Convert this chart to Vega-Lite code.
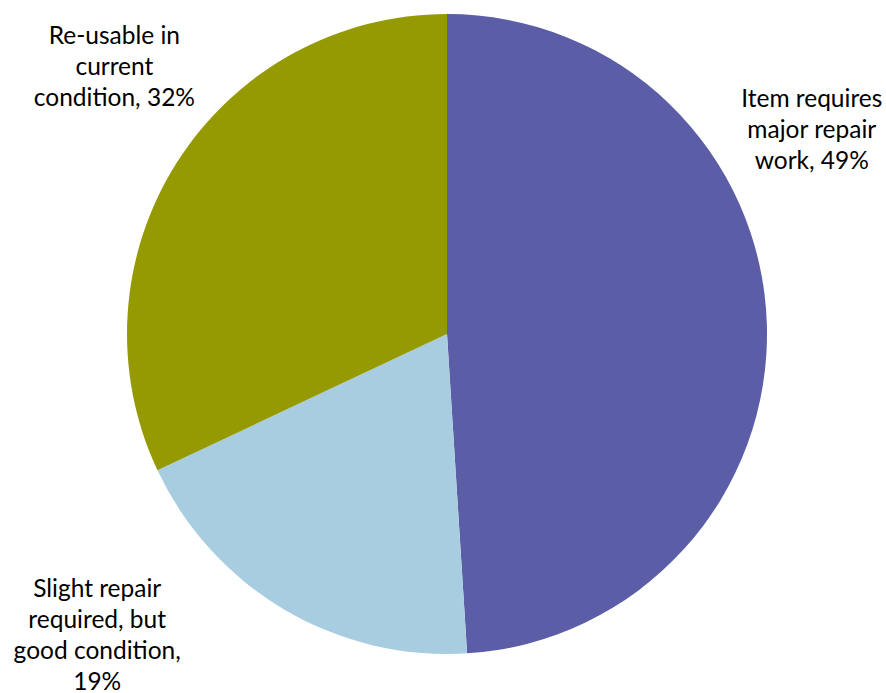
{
  "$schema": "https://vega.github.io/schema/vega-lite/v6.json",
  "width": 878,
  "height": 668,
  "autosize": {"type": "none"},
  "padding": {"left": 8, "top": 0, "right": 0, "bottom": 25},
  "background": "white",
  "config": {"view": {"stroke": null}},
  "data": {
    "values": [
      {"category": "Item requires major repair work", "share": 49, "seq": 1, "label": "Item requires\nmajor repair\nwork, 49%"},
      {"category": "Slight repair required, but good condition", "share": 19, "seq": 2, "label": "Slight repair\nrequired, but\ngood condition,\n19%"},
      {"category": "Re-usable in current condition", "share": 32, "seq": 3, "label": "Re-usable in\ncurrent\ncondition, 32%"}
    ]
  },
  "encoding": {
    "theta": {"field": "share", "type": "quantitative", "stack": true},
    "order": {"field": "seq", "type": "quantitative", "sort": "ascending"}
  },
  "layer": [
    {
      "mark": {"type": "arc", "radius": 320},
      "encoding": {
        "color": {
          "field": "category",
          "type": "nominal",
          "scale": {
            "domain": ["Item requires major repair work", "Slight repair required, but good condition", "Re-usable in current condition"],
            "range": ["#5B5EA6", "#A8CDE1", "#959A03"]
          },
          "legend": null
        }
      }
    },
    {
      "mark": {"type": "text", "radius": 420, "dx": -55, "dy": -221, "font": "Lato", "fontSize": 24.5, "lineHeight": 31, "lineBreak": "\n", "align": "center", "baseline": "middle", "color": "#000000"},
      "encoding": {"text": {"condition": {"test": "datum.seq == 1", "field": "label"}, "value": ""}}
    },
    {
      "mark": {"type": "text", "radius": 420, "dx": -136, "dy": -106, "font": "Lato", "fontSize": 24.5, "lineHeight": 31, "lineBreak": "\n", "align": "center", "baseline": "middle", "color": "#000000"},
      "encoding": {"text": {"condition": {"test": "datum.seq == 2", "field": "label"}, "value": ""}}
    },
    {
      "mark": {"type": "text", "radius": 420, "dx": 22, "dy": -72, "font": "Lato", "fontSize": 24.5, "lineHeight": 31, "lineBreak": "\n", "align": "center", "baseline": "middle", "color": "#000000"},
      "encoding": {"text": {"condition": {"test": "datum.seq == 3", "field": "label"}, "value": ""}}
    }
  ]
}
